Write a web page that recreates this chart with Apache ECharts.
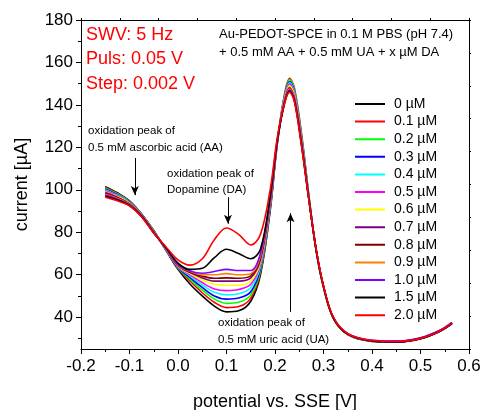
<!DOCTYPE html>
<html>
<head>
<meta charset="utf-8">
<script src="https://cdn.jsdelivr.net/npm/echarts@6/dist/echarts.min.js"></script>
<style>
  html, body { margin: 0; padding: 0; background: #fff; }
  #chart { width: 484px; height: 410px; }
</style>
</head>
<body>
<div id="chart"></div>
<script>
// potential [V]
const xs = [-0.15, -0.125, -0.1, -0.075, -0.05, -0.025, 0, 0.025, 0.05, 0.075, 0.1, 0.125, 0.15, 0.17, 0.19,
  0.205, 0.22, 0.23, 0.24, 0.255, 0.27, 0.285, 0.3, 0.32, 0.35, 0.4, 0.45, 0.5, 0.54, 0.565]

// current [µA], one array per DA concentration
const c00 = [101.5, 98.6, 94.8, 88.6, 80.8, 71.6, 62.5, 55.5, 50, 45.2, 42.5, 43, 47.5, 60, 90, 122, 143, 149, 144.5, 123, 96, 71, 54, 39.5, 31.8, 28.6, 28.2, 29.8, 33.3, 37]
const c01 = [101.1, 98.3, 94.6, 88.5, 80.7, 71.7, 63, 57, 51.5, 47, 44.5, 45, 49, 61, 91, 123, 145.5, 152.5, 148, 126, 97, 71.5, 54.3, 39.7, 31.9, 28.7, 28.3, 29.9, 33.4, 37.1]
const c02 = [100.7, 98, 94.4, 88.4, 80.6, 71.8, 63.2, 57.8, 52.8, 48.5, 46.5, 47, 50.5, 62, 91.5, 123, 145, 152, 147.5, 125.5, 97, 71.5, 54.5, 39.8, 32, 28.8, 28.4, 30, 33.5, 37.2]
const c03 = [100.3, 97.7, 94.2, 88.3, 80.5, 71.9, 63.4, 58.6, 54, 50, 48.5, 49, 52, 63, 92, 123, 144.5, 151, 146.5, 124.5, 96.5, 71.3, 54.3, 39.7, 31.9, 28.8, 28.4, 30, 33.5, 37.2]
const c04 = [99.9, 97.4, 94, 88.2, 80.4, 72, 63.6, 59.4, 55.2, 51.7, 50.5, 51, 54, 64, 92.5, 123, 144, 150.5, 146, 124, 96.5, 71.5, 54.5, 39.8, 32, 28.9, 28.5, 30.1, 33.6, 37.3]
const c05 = [99.5, 97.1, 93.8, 88.1, 80.3, 72.1, 63.8, 60, 56.3, 53.3, 52.5, 53, 55.5, 65, 93, 123, 143.5, 150, 145.5, 123.5, 96, 71.5, 54.5, 39.8, 32, 28.9, 28.5, 30.1, 33.6, 37.3]
const c06 = [99.1, 96.8, 93.6, 88, 80.2, 72.2, 64, 60.5, 57.5, 55.5, 55, 55, 57, 66, 93.5, 123, 143, 149, 144.5, 122.5, 95.5, 71.3, 54.3, 39.7, 32, 28.9, 28.5, 30.1, 33.6, 37.3]
const c07 = [98.7, 96.5, 93.4, 87.9, 80.1, 72.3, 64.2, 61, 58.5, 57, 57, 57, 58.5, 67, 94, 123, 142.5, 148, 143.5, 122, 95.5, 71.5, 54.5, 39.8, 32, 28.9, 28.5, 30.1, 33.6, 37.3]
const c08 = [98.3, 96.2, 93.2, 87.8, 80, 72.4, 64.4, 61.3, 59.3, 58.3, 58.5, 58.3, 59.5, 68, 94.5, 123, 142, 147.5, 143, 121.5, 95.5, 71.5, 54.5, 39.9, 32.1, 29, 28.6, 30.2, 33.7, 37.4]
const c09 = [97.9, 95.9, 93, 87.7, 79.9, 72.5, 64.6, 61.6, 60, 60, 60.5, 60, 60.5, 69, 95, 123.5, 142, 147.5, 143, 121.5, 95.5, 71.5, 54.5, 39.9, 32.1, 29, 28.6, 30.2, 33.7, 37.4]
const c10 = [97.5, 95.6, 92.8, 87.6, 79.8, 72.6, 64.8, 61.8, 60.7, 61.5, 62.5, 62, 62, 70, 95.5, 123.5, 141.5, 147, 142.5, 121, 95.5, 71.7, 54.7, 40, 32.2, 29.1, 28.7, 30.3, 33.8, 37.5]
const c15 = [97, 95.2, 92.6, 87.4, 79.7, 72.8, 65.5, 62.5, 63, 68, 72, 70, 67.5, 72, 97, 124, 141, 146.5, 142, 120.5, 95, 71.5, 54.5, 39.8, 32, 28.8, 28.3, 29.9, 33.4, 37.1]
const c20 = [96.5, 94.8, 92.4, 87.2, 79.6, 73.2, 67, 64.5, 67.5, 76.5, 82, 79, 74, 79, 100, 125, 141, 146, 141.5, 120, 95, 71.8, 54.8, 40.1, 32.2, 29, 28.5, 30, 33.5, 37.2]

const curves = [c00, c01, c02, c03, c04, c05, c06, c07, c08, c09, c10, c15, c20]
const names = ['0 µM', '0.1 µM', '0.2 µM', '0.3 µM', '0.4 µM', '0.5 µM', '0.6 µM', '0.7 µM', '0.8 µM', '0.9 µM', '1.0 µM', '1.5 µM', '2.0 µM']
const colors = ['#000000', '#ff0000', '#00ff00', '#0000ff', '#00ffff', '#ff00ff', '#ffff00', '#800080', '#800000', '#ff8000', '#8000ff', '#000000', '#ff0000']

const yMajor = [40, 60, 80, 100, 120, 140, 160, 180]
const yMinor = [30, 50, 70, 90, 110, 130, 150, 170]

const FONT = 'Liberation Sans, Arial, Helvetica, sans-serif'
// legend sample: a thin bar in the middle of a 30x14 box
const LINE_ICON = 'path://M0,0L0.01,0Z M0,6L30,6L30,8L0,8Z M0,14L0.01,14Z'

const myChart = echarts.init(document.getElementById('chart'))

const series = curves.map((vals, k) => ({
  name: names[k],
  type: 'line',
  xAxisIndex: 0,
  yAxisIndex: 0,
  symbol: 'none',
  smooth: 0.35,
  silent: true,
  lineStyle: { color: colors[k], width: 1.6 },
  itemStyle: { color: colors[k] },
  data: xs.map((x, i) => [x, vals[i]])
}))

// arrows for the annotations
series.push({
  type: 'line',
  xAxisIndex: 0,
  yAxisIndex: 0,
  data: [],
  silent: true,
  markLine: {
    silent: true,
    symbol: ['none', 'arrow'],
    symbolSize: [6, 9],
    label: { show: false },
    lineStyle: { color: '#000', width: 1, type: 'solid' },
    data: [
      [{ coord: [-0.089, 115] }, { coord: [-0.089, 97.5] }],
      [{ coord: [0.103, 96.5] }, { coord: [0.103, 84] }],
      [{ coord: [0.232, 42.5] }, { coord: [0.232, 89] }]
    ]
  }
})

const txt = (text, x, y, size, color) => ({
  type: 'text',
  x: x,
  y: y,
  style: { text: text, fill: color || '#000', font: size + 'px ' + FONT, verticalAlign: 'middle' }
})

const option = {
  animation: false,
  backgroundColor: '#fff',
  grid: { left: 81, right: 15, top: 20, bottom: 61, outerBoundsMode: 'none' },
  legend: {
    data: names.map((n, k) => ({ name: n, icon: LINE_ICON, itemStyle: { color: colors[k] } })),
    orient: 'vertical',
    left: 350,
    top: 92,
    itemWidth: 30,
    itemHeight: 14,
    itemGap: 3.6,
    selectedMode: false,
    textStyle: { fontFamily: FONT, fontSize: 14, color: '#000', padding: [0, 0, 0, 4] }
  },
  xAxis: [
    {
      type: 'value',
      min: -0.2,
      max: 0.6,
      interval: 0.1,
      position: 'bottom',
      name: 'potential vs. SSE [V]',
      nameLocation: 'middle',
      nameGap: 44,
      nameTextStyle: { fontFamily: FONT, fontSize: 18, color: '#000' },
      axisLine: { show: true, onZero: false, lineStyle: { color: '#000', width: 1 } },
      axisTick: { show: true, inside: false, length: 5, lineStyle: { color: '#000' } },
      minorTick: { show: true, splitNumber: 2, length: 3, lineStyle: { color: '#000' } },
      axisLabel: {
        margin: 9,
        fontFamily: FONT,
        fontSize: 17,
        color: '#000',
        formatter: v => v.toFixed(1)
      },
      splitLine: { show: false }
    },
    {
      type: 'value',
      min: -0.2,
      max: 0.6,
      interval: 0.08,
      position: 'top',
      axisLine: { show: true, onZero: false, lineStyle: { color: '#000', width: 1 } },
      axisTick: { show: true, inside: false, length: 2, lineStyle: { color: '#000' } },
      axisLabel: { show: false },
      splitLine: { show: false }
    }
  ],
  yAxis: [
    {
      type: 'value',
      min: 25,
      max: 180,
      position: 'left',
      name: 'current [µA]',
      nameLocation: 'middle',
      nameRotate: 90,
      nameGap: 50,
      nameTextStyle: { fontFamily: FONT, fontSize: 18, color: '#000' },
      axisLine: { show: true, onZero: false, lineStyle: { color: '#000', width: 1 } },
      axisTick: { show: true, length: 5, customValues: yMajor, lineStyle: { color: '#000' } },
      axisLabel: { margin: 8, fontFamily: FONT, fontSize: 17, color: '#000', customValues: yMajor },
      splitLine: { show: false }
    },
    {
      type: 'value',
      min: 25,
      max: 180,
      position: 'left',
      axisLine: { show: false, onZero: false },
      axisTick: { show: true, length: 3, customValues: yMinor, lineStyle: { color: '#000' } },
      axisLabel: { show: false, customValues: yMinor },
      splitLine: { show: false }
    },
    {
      type: 'value',
      min: 25,
      max: 180,
      interval: 15.5,
      position: 'right',
      axisLine: { show: true, onZero: false, lineStyle: { color: '#000', width: 1 } },
      axisTick: { show: true, inside: false, length: 2, lineStyle: { color: '#000' } },
      axisLabel: { show: false },
      splitLine: { show: false }
    }
  ],
  graphic: [
    txt('SWV: 5 Hz', 86, 35, 18, '#ff0000'),
    txt('Puls: 0.05 V', 86, 59, 18, '#ff0000'),
    txt('Step: 0.002 V', 86, 84, 18, '#ff0000'),
    txt('Au-PEDOT-SPCE in 0.1 M PBS (pH 7.4)', 219, 34, 13),
    txt('+ 0.5 mM AA + 0.5 mM UA + x µM DA', 219, 52, 13),
    txt('oxidation peak of', 88, 131, 11.5),
    txt('0.5 mM ascorbic acid (AA)', 88, 148, 11.5),
    txt('oxidation peak of', 167, 174, 11.5),
    txt('Dopamine (DA)', 167, 190, 11.5),
    txt('oxidation peak of', 218, 323, 11.5),
    txt('0.5 mM uric acid (UA)', 218, 340, 11.5)
  ],
  series: series
}

option && myChart.setOption(option)
</script>
</body>
</html>
